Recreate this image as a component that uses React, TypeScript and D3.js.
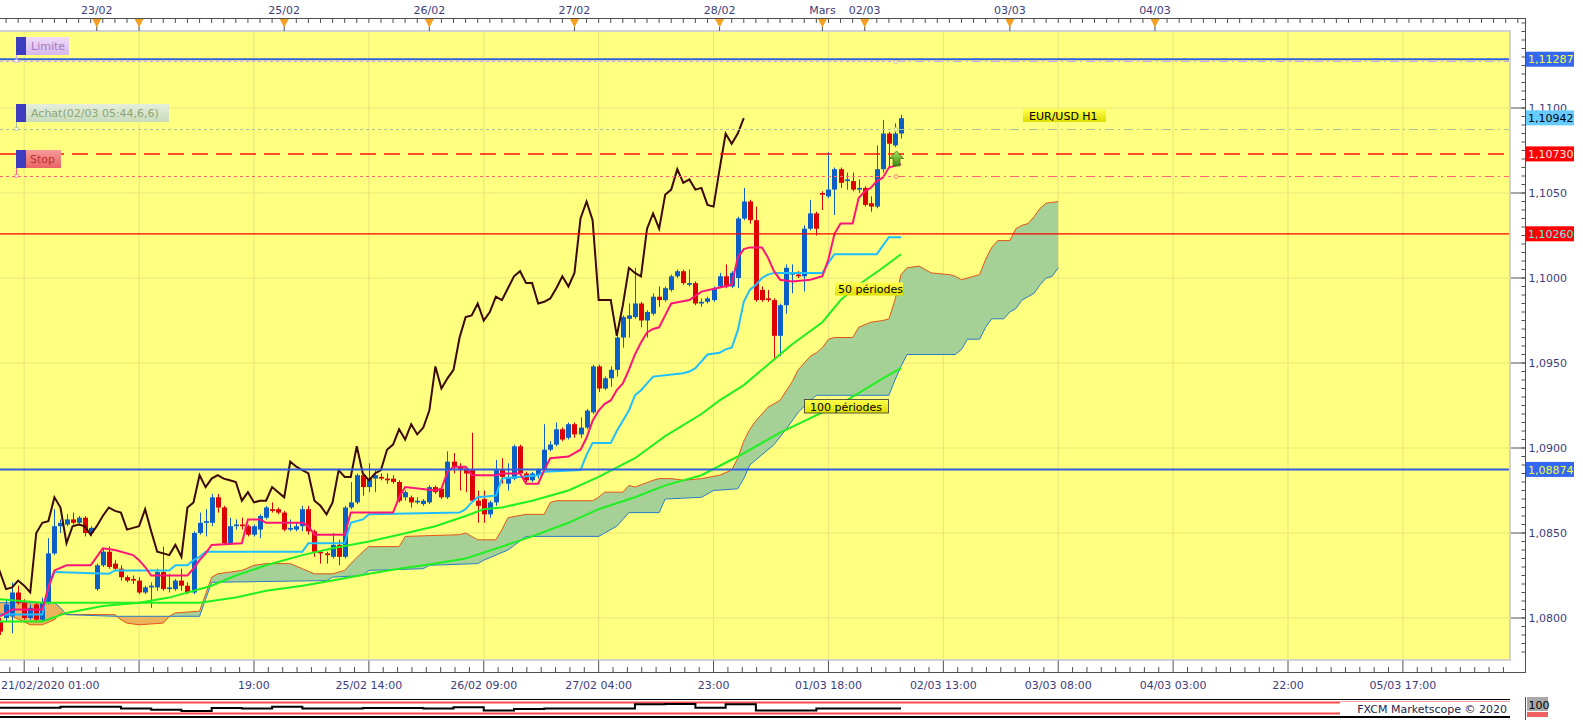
import React from 'react';
import * as d3 from 'd3';

// ---------- DATA (EUR/USD H1) ----------
const candleOpen = [
  1.0798,1.0800,1.0801,1.0815,1.0809,1.0800,1.0808,1.0799,1.0809,1.0838,
  1.0854,1.0855,1.0858,1.0856,1.0859,1.0850,1.0817,1.0831,1.0839,1.0832,
  1.0829,1.0824,1.0823,1.0822,1.0815,1.0818,1.0818,1.0827,1.0817,1.0817,
  1.0822,1.0819,1.0815,1.0850,1.0856,1.0856,1.0871,1.0865,1.0844,1.0854,
  1.0855,1.0854,1.0849,1.0852,1.0859,1.0864,1.0864,1.0862,1.0852,1.0852,
  1.0854,1.0864,1.0851,1.0839,1.0838,1.0836,1.0843,1.0836,1.0865,1.0868,
  1.0884,1.0877,1.0882,1.0883,1.0882,1.0882,1.0880,1.0871,1.0871,1.0868,
  1.0867,1.0868,1.0877,1.0876,1.0871,1.0892,1.0889,1.0888,1.0887,1.0869,
  1.0870,1.0861,1.0868,1.0887,1.0879,1.0882,1.0901,1.0885,1.0881,1.0884,
  1.0887,1.0899,1.0902,1.0911,1.0906,1.0914,1.0908,1.0912,1.0921,1.0948,
  1.0935,1.0941,1.0946,1.0965,1.0976,1.0977,1.0985,1.0975,1.0979,1.0989,
  1.0987,1.0993,1.1001,1.1004,1.0996,1.0997,1.0985,1.0986,1.0987,1.0995,
  1.1001,1.0995,1.1000,1.1035,1.1045,1.1034,1.0993,1.0988,1.0987,1.0966,
  1.0984,1.1002,1.1002,1.1001,1.1029,1.1038,1.1050,1.1048,1.1052,1.1064,
  1.1057,1.1057,1.1052,1.1053,1.1044,1.1042,1.1064,1.1085,1.1078,1.1085,
];
const candleHigh = [
  1.0800,1.0811,1.0821,1.0819,1.0811,1.0808,1.0809,1.0812,1.0847,1.0864,
  1.0858,1.0861,1.0862,1.0860,1.0860,1.0854,1.0832,1.0841,1.0842,1.0834,
  1.0831,1.0825,1.0825,1.0824,1.0819,1.0821,1.0829,1.0842,1.0826,1.0823,
  1.0829,1.0821,1.0851,1.0862,1.0864,1.0873,1.0873,1.0866,1.0859,1.0858,
  1.0859,1.0855,1.0855,1.0861,1.0866,1.0868,1.0865,1.0863,1.0858,1.0856,
  1.0866,1.0866,1.0852,1.0840,1.0839,1.0850,1.0846,1.0866,1.0880,1.0885,
  1.0885,1.0891,1.0887,1.0885,1.0885,1.0884,1.0881,1.0875,1.0872,1.0871,
  1.0870,1.0878,1.0878,1.0877,1.0898,1.0897,1.0891,1.0889,1.0909,1.0875,
  1.0875,1.0869,1.0893,1.0894,1.0891,1.0902,1.0902,1.0886,1.0886,1.0888,
  1.0914,1.0904,1.0915,1.0912,1.0915,1.0915,1.0918,1.0923,1.0949,1.0949,
  1.0942,1.0948,1.0966,1.0978,1.0985,1.1006,1.0986,1.0981,1.0991,1.0995,
  1.0995,1.1002,1.1005,1.1005,1.1005,1.0998,1.0988,1.0989,1.0995,1.1003,
  1.1008,1.1004,1.1036,1.1053,1.1046,1.1042,1.0995,1.0993,1.0988,1.0985,
  1.1008,1.1008,1.1004,1.1031,1.1046,1.1039,1.1051,1.1074,1.1065,1.1065,
  1.1062,1.1062,1.1058,1.1054,1.1048,1.1078,1.1093,1.1086,1.1091,1.1096,
];
const candleLow = [
  1.0790,1.0798,1.0791,1.0808,1.0799,1.0799,1.0798,1.0798,1.0808,1.0837,
  1.0850,1.0854,1.0855,1.0855,1.0848,1.0848,1.0816,1.0830,1.0829,1.0828,
  1.0822,1.0821,1.0820,1.0814,1.0814,1.0806,1.0816,1.0816,1.0815,1.0816,
  1.0816,1.0814,1.0814,1.0849,1.0848,1.0854,1.0862,1.0843,1.0843,1.0852,
  1.0852,1.0848,1.0848,1.0847,1.0858,1.0862,1.0861,1.0851,1.0851,1.0851,
  1.0851,1.0849,1.0836,1.0832,1.0832,1.0835,1.0831,1.0835,1.0864,1.0867,
  1.0872,1.0874,1.0874,1.0881,1.0879,1.0879,1.0868,1.0869,1.0865,1.0867,
  1.0866,1.0867,1.0873,1.0870,1.0870,1.0885,1.0875,1.0874,1.0868,1.0856,
  1.0856,1.0859,1.0866,1.0879,1.0875,1.0881,1.0884,1.0880,1.0880,1.0882,
  1.0886,1.0898,1.0901,1.0904,1.0905,1.0906,1.0906,1.0911,1.0920,1.0933,
  1.0934,1.0936,1.0942,1.0959,1.0965,1.0976,1.0971,1.0965,1.0978,1.0983,
  1.0986,1.0992,1.1000,1.0996,1.0995,1.0984,1.0983,1.0985,1.0986,1.0994,
  1.0994,1.0994,1.0994,1.1034,1.1032,1.0986,1.0986,1.0986,1.0953,1.0954,
  1.0979,1.0991,1.1000,1.0992,1.1028,1.1025,1.1040,1.1047,1.1037,1.1053,
  1.1052,1.1051,1.1050,1.1042,1.1039,1.1041,1.1062,1.1065,1.1077,1.1082,
];
const candleClose = [
  1.0792,1.0808,1.0815,1.0809,1.0800,1.0806,1.0799,1.0809,1.0838,1.0854,
  1.0856,1.0858,1.0856,1.0859,1.0850,1.0853,1.0831,1.0839,1.0830,1.0829,
  1.0824,1.0822,1.0822,1.0815,1.0818,1.0819,1.0827,1.0817,1.0818,1.0822,
  1.0819,1.0815,1.0850,1.0856,1.0857,1.0871,1.0865,1.0844,1.0854,1.0855,
  1.0854,1.0849,1.0854,1.0860,1.0865,1.0863,1.0862,1.0852,1.0853,1.0854,
  1.0864,1.0851,1.0839,1.0838,1.0837,1.0843,1.0836,1.0865,1.0868,1.0884,
  1.0877,1.0882,1.0884,1.0882,1.0881,1.0880,1.0869,1.0874,1.0868,1.0869,
  1.0869,1.0877,1.0874,1.0871,1.0892,1.0889,1.0887,1.0885,1.0869,1.0866,
  1.0861,1.0868,1.0887,1.0883,1.0883,1.0901,1.0885,1.0881,1.0885,1.0887,
  1.0899,1.0902,1.0911,1.0905,1.0914,1.0908,1.0912,1.0922,1.0948,1.0935,
  1.0941,1.0946,1.0965,1.0977,1.0978,1.0985,1.0975,1.0980,1.0989,1.0987,
  1.0994,1.1001,1.1004,1.0997,1.0997,1.0985,1.0986,1.0988,1.0994,1.1001,
  1.0995,1.1003,1.1035,1.1045,1.1034,1.0987,1.0987,1.0987,1.0966,1.0984,
  1.1006,1.1003,1.1001,1.1029,1.1038,1.1029,1.1049,1.1052,1.1064,1.1056,
  1.1058,1.1052,1.1053,1.1043,1.1042,1.1064,1.1085,1.1079,1.1085,1.1094,
];

// indicator vertices: [candle index, price]
const tenkan: [number, number][] = [
  [0,1.0801],[2,1.0805],[7,1.0805],[8,1.0818],[9,1.0828],[11,1.0831],[15,1.0831],[16,1.0836],[17,1.0841],[19,1.0840],
  [22,1.0837],[23,1.0834],[24,1.0830],[25,1.0825],[31,1.0825],[32,1.0829],[33,1.0834],[34,1.0838],[35,1.0843],[40,1.0844],
  [41,1.0858],[43,1.0858],[44,1.0856],[50,1.0856],[51,1.0854],[52,1.0849],[57,1.0849],[58,1.0862],[65,1.0862],[66,1.0871],
  [67,1.0877],[72,1.0875],[73,1.0876],[74,1.0886],[75,1.0889],[77,1.0889],[78,1.0884],[82,1.0884],[83,1.0885],[86,1.0885],
  [87,1.0879],[89,1.0879],[90,1.0887],[91,1.0894],[94,1.0895],[95,1.0897],[96,1.0899],[97,1.0906],[98,1.0916],[99,1.0922],
  [100,1.0926],[101,1.0928],[102,1.0934],[103,1.0938],[104,1.0946],[105,1.0955],[106,1.0962],[107,1.0968],[108,1.0970],[109,1.0971],
  [110,1.0978],[111,1.0985],[114,1.0987],[116,1.0992],[121,1.0996],[122,1.1012],[123,1.1017],[124,1.1018],[126,1.1018],[127,1.1012],
  [128,1.1004],[129,1.0999],[131,1.0998],[134,1.0999],[136,1.1001],[137,1.1011],[138,1.1026],[139,1.1032],[141,1.1032],[142,1.1047],
  [143,1.1051],[144,1.1053],[145,1.1057],[146,1.1059],[147,1.1065],[149,1.1067],
];
const kijun: [number, number][] = [
  [0,1.0802],[7,1.0802],[8,1.0818],[9,1.0827],[18,1.0826],[19,1.0828],[28,1.0828],[29,1.0831],[31,1.0831],[32,1.0834],
  [33,1.0836],[34,1.0839],[50,1.0839],[51,1.0844],[57,1.0844],[58,1.0856],[60,1.0858],[61,1.0861],[76,1.0862],[77,1.0864],
  [78,1.0868],[79,1.0871],[82,1.0872],[83,1.0882],[89,1.0884],[90,1.0886],[96,1.0887],[97,1.0896],[98,1.0903],[101,1.0903],
  [102,1.0910],[103,1.0916],[104,1.0922],[105,1.0931],[106,1.0934],[107,1.0938],[108,1.0942],[113,1.0944],[114,1.0945],[115,1.0947],
  [116,1.0951],[117,1.0955],[119,1.0956],[120,1.0958],[121,1.0959],[122,1.0969],[123,1.0986],[124,1.0993],[125,1.0996],[126,1.1000],
  [127,1.1002],[128,1.1003],[136,1.1003],[137,1.1009],[138,1.1014],[145,1.1014],[146,1.1019],[147,1.1024],[149,1.1024],
];
const ma50: [number, number][] = [
  [0,1.0798],[7,1.0798],[11,1.0803],[17,1.0807],[23,1.0809],[28,1.0812],[35,1.0819],[39,1.0825],[44,1.0831],[50,1.0837],
  [55,1.0841],[61,1.0845],[66,1.0849],[72,1.0854],[77,1.0860],[80,1.0864],[83,1.0865],[88,1.0869],[94,1.0875],[99,1.0883],
  [105,1.0894],[110,1.0907],[116,1.0920],[119,1.0928],[123,1.0937],[128,1.0952],[131,1.0961],[136,1.0974],[139,1.0987],[142,1.0996],
  [146,1.1006],[149,1.1014],
];
const ma100: [number, number][] = [
  [0,1.0811],[7,1.0809],[33,1.0809],[39,1.0812],[44,1.0816],[50,1.0819],[55,1.0822],[61,1.0826],[66,1.0829],[72,1.0832],
  [77,1.0835],[83,1.0842],[88,1.0848],[94,1.0856],[99,1.0864],[105,1.0871],[110,1.0878],[116,1.0884],[122,1.0895],[129,1.0909],
  [136,1.0921],[140,1.0928],[146,1.0941],[149,1.0947],
];
const senkouA: [number, number][] = [
  [0,1.0803],[2,1.0801],[5,1.0796],[7,1.0796],[9,1.0799],[10,1.0803],[11,1.0802],[19,1.0802],[20,1.0799],[21,1.0797],
  [23,1.0796],[27,1.0797],[28,1.0801],[29,1.0803],[33,1.0804],[34,1.0814],[35,1.0824],[36,1.0826],[40,1.0828],[42,1.0831],
  [44,1.0832],[48,1.0832],[50,1.0829],[52,1.0826],[55,1.0826],[57,1.0828],[58,1.0832],[60,1.0839],[61,1.0842],[66,1.0842],
  [67,1.0848],[76,1.0849],[77,1.0850],[78,1.0848],[79,1.0846],[82,1.0846],[83,1.0852],[84,1.0859],[87,1.0861],[90,1.0861],
  [91,1.0868],[92,1.0869],[98,1.0869],[99,1.0871],[100,1.0874],[103,1.0874],[104,1.0878],[105,1.0877],[108,1.0881],[109,1.0882],
  [111,1.0882],[113,1.0881],[116,1.0882],[119,1.0884],[121,1.0887],[122,1.0894],[123,1.0904],[124,1.0911],[125,1.0916],[127,1.0924],
  [129,1.0928],[131,1.0939],[132,1.0946],[134,1.0954],[135,1.0956],[136,1.0959],[137,1.0964],[138,1.0965],[141,1.0965],[142,1.0971],
  [144,1.0974],[146,1.0975],[147,1.0976],[148,1.0987],[149,1.1002],[150,1.1006],[152,1.1007],[153,1.1005],[154,1.1003],[157,1.1002],
  [158,1.1001],[159,1.0999],[161,1.1001],[162,1.1002],[163,1.1011],[164,1.1018],[165,1.1022],[167,1.1022],[168,1.1029],[169,1.1031],
  [170,1.1032],[171,1.1036],[172,1.1041],[173,1.1044],[175,1.1045],
];
const senkouB: [number, number][] = [
  [0,1.0809],[9,1.0809],[10,1.0806],[11,1.0802],[19,1.0801],[33,1.0801],[34,1.0811],[35,1.0821],[54,1.0822],[55,1.0824],
  [60,1.0825],[61,1.0828],[70,1.0829],[71,1.0831],[79,1.0832],[80,1.0834],[84,1.0840],[87,1.0848],[99,1.0848],[100,1.0850],
  [102,1.0854],[103,1.0858],[104,1.0862],[109,1.0862],[110,1.0870],[116,1.0871],[118,1.0875],[122,1.0876],[123,1.0882],[124,1.0890],
  [126,1.0896],[128,1.0902],[130,1.0911],[132,1.0921],[134,1.0928],[135,1.0931],[147,1.0931],[148,1.0940],[149,1.0948],[150,1.0955],
  [158,1.0955],[159,1.0958],[160,1.0964],[162,1.0964],[163,1.0971],[164,1.0976],[166,1.0976],[167,1.0980],[168,1.0982],[169,1.0987],
  [170,1.0989],[171,1.0991],[172,1.0996],[173,1.1000],[174,1.1001],[175,1.1006],
];

// horizontal levels
const levelLimite = 1.11287;
const levelLimiteOrder = 1.11275;
const levelCurrent = 1.10942;
const levelAchat = 1.10876;
const levelStopLine = 1.10730;
const levelStopOrder = 1.10600;
const levelRed = 1.10260;
const levelBlue = 1.08874;

// axis labels
const topDayIdx = [16, 23, 47, 71, 95, 119, 136, 143, 167, 191];
const topDayLabels = ['23/02', '', '25/02', '26/02', '27/02', '28/02', 'Mars', '02/03', '03/03', '04/03'];
const bottomMajorIdx = [4, 23, 42, 61, 80, 99, 118, 137, 156, 175, 194, 213, 232];
const bottomLabels = ['', '', '19:00', '25/02 14:00', '26/02 09:00', '27/02 04:00', '23:00', '01/03 18:00', '02/03 13:00', '03/03 08:00', '04/03 03:00', '22:00', '05/03 17:00'];
const firstDateLabel = '21/02/2020 01:00';
const priceTicks = [1.08, 1.085, 1.09, 1.095, 1.10, 1.105, 1.11];

// tiny lower pane oscillator
const oscIdx = [0,5,10,15,20,25,30,35,40,45,50,55,60,65,70,75,80,85,90,95,100,105,110,115,120,125,130,135,140,145,149];
const oscVal = [48,48,60,60,36,18,0,42,36,60,36,36,42,42,36,54,6,30,36,36,36,96,100,48,96,6,6,36,36,36,36];

// ---------- LAYOUT ----------
const W = 1583, H = 720;
const PR = 1510, PT = 31, PB = 660;
const AX = 1525.5;
const STEP = 6.047;
const FONT = 'DejaVu Sans';
const AXIS_TXT = '#3c3c7c';
const BLUE = '#0c5fc6';
const RED = '#dc0000';

const xS = d3.scaleLinear().domain([0, 100]).range([0, 100 * STEP]);
const yS = d3.scaleLinear().domain([1.08, 1.11]).range([618, 108]);

type P = [number, number];
const lineGen = d3.line<P>().x(d => xS(d[0])).y(d => yS(d[1]));
const areaBelow = d3.area<P>().x(d => xS(d[0])).y0(d => yS(d[1])).y1(PB + 10);
const areaAbove = d3.area<P>().x(d => xS(d[0])).y0(PT - 10).y1(d => yS(d[1]));
const fmt = (v: number, n: number) => v.toFixed(n).replace('.', ',');

const chikou: P[] = candleClose.map((c, i) => [i - 26, c] as P);
const oscPts: P[] = oscIdx.map((d, i) => [d, oscVal[i]] as P);
const oscY = d3.scaleLinear().domain([0, 100]).range([711, 704]);
const oscLine = d3.line<P>().x(d => xS(d[0])).y(d => oscY(d[1])).curve(d3.curveStepAfter);

function OrderLine({ price, color, split }: { price: number; color: string; split: number }) {
  const y = Math.round(yS(price)) + 0.5;
  return (
    <g>
      <line x1={0} x2={split} y1={y} y2={y} stroke={color} strokeWidth={1} strokeDasharray="3,3" />
      <line x1={split} x2={PR} y1={y} y2={y} stroke={color} strokeWidth={1} strokeDasharray="9,4,2,4" />
      <circle cx={split} cy={y} r={2} fill="#ffff80" stroke={color} strokeWidth={0.8} />
    </g>
  );
}

function PriceBox({ price, bg, fg, text }: { price: number; bg: string; fg: string; text?: string }) {
  const y = yS(price);
  return (
    <g>
      <rect x={1526} y={y - 7.5} width={48} height={15} fill={bg} />
      <text x={1528} y={y + 4.2} fontSize={11} fill={fg} fontFamily={FONT}>{text ?? fmt(price, 5)}</text>
    </g>
  );
}

export default function App() {
  React.useEffect(() => {
    document.body.style.margin = '0';
  }, []);

  const splitX = xS(149) - 5;
  const topTicks = d3.range(1, 252, 2).map(i => xS(i)).filter(x => x < AX);
  const bottomMinor: number[] = [];
  const majorGap = 19 * STEP;
  for (let k = -1; k < bottomMajorIdx.length; k++) {
    const base = xS(4 + 19 * k);
    for (let j = 1; j < 8; j++) {
      const xx = base + (j * majorGap) / 8;
      if (xx > 0 && xx < AX) bottomMinor.push(xx);
    }
  }
  const rightMinor = d3.range(0, 80).map(j => 1.0775 + j * 0.0005).map(p => yS(p)).filter(y => y > 20 && y < PB);

  return (
    <svg width={W} height={H} style={{ display: 'block', position: 'absolute', left: 0, top: 0, background: '#fff' }} fontFamily={FONT}>
      <defs>
        <clipPath id="plotClip"><rect x={0} y={PT} width={PR} height={PB - PT} /></clipPath>
        <clipPath id="aboveB"><path d={areaAbove(senkouB) || ''} /></clipPath>
        <clipPath id="aboveA"><path d={areaAbove(senkouA) || ''} /></clipPath>
        <linearGradient id="gLim" x1="0" y1="0" x2="0" y2="1"><stop offset="0" stopColor="#efdcf7" /><stop offset="1" stopColor="#d7b8ea" /></linearGradient>
        <linearGradient id="gAch" x1="0" y1="0" x2="0" y2="1"><stop offset="0" stopColor="#e6eedc" /><stop offset="1" stopColor="#c9dbbb" /></linearGradient>
        <linearGradient id="gStop" x1="0" y1="0" x2="0" y2="1"><stop offset="0" stopColor="#f79a9a" /><stop offset="1" stopColor="#e86464" /></linearGradient>
        <linearGradient id="gYel" x1="0" y1="0" x2="0" y2="1"><stop offset="0" stopColor="#ffff50" /><stop offset="1" stopColor="#dede00" /></linearGradient>
        <linearGradient id="gArrow" x1="0" y1="0" x2="0" y2="1"><stop offset="0" stopColor="#a6e05a" /><stop offset="1" stopColor="#3f8a12" /></linearGradient>
      </defs>

      {/* plot background */}
      <rect x={0} y={PT} width={PR} height={PB - PT} fill="#ffff80" />

      {/* grid */}
      {priceTicks.map(p => (
        <line key={'hg' + p} x1={0} x2={PR} y1={yS(p)} y2={yS(p)} stroke="#ece67c" strokeWidth={1.2} />
      ))}
      {bottomMajorIdx.map(i => (
        <line key={'vg' + i} x1={xS(i)} x2={xS(i)} y1={PT} y2={PB} stroke="#ece67c" strokeWidth={1.2} />
      ))}

      <g clipPath="url(#plotClip)">
        {/* Ichimoku cloud */}
        <path d={areaBelow(senkouA) || ''} fill="#a5d196" clipPath="url(#aboveB)" />
        <path d={areaBelow(senkouB) || ''} fill="#edb35c" clipPath="url(#aboveA)" />
        <path d={lineGen(senkouA) || ''} fill="none" stroke="#e2561a" strokeWidth={1} />
        <path d={lineGen(senkouB) || ''} fill="none" stroke="#2a7cc8" strokeWidth={1} />

        {/* candles */}
        {candleOpen.map((o, i) => {
          const c = candleClose[i];
          const up = c >= o;
          const col = up ? BLUE : RED;
          const cx = Math.round(xS(i));
          const yTop = yS(Math.max(o, c));
          const yBot = yS(Math.min(o, c));
          return (
            <g key={'c' + i}>
              <line x1={cx + 0.5} x2={cx + 0.5} y1={yS(candleHigh[i])} y2={yS(candleLow[i])} stroke={col} strokeWidth={1} />
              <rect x={cx - 2} y={yTop} width={5} height={Math.max(1.5, yBot - yTop)} fill={col} />
            </g>
          );
        })}

        {/* moving averages */}
        <path d={lineGen(ma100) || ''} fill="none" stroke="#1ff01f" strokeWidth={2} />
        <path d={lineGen(ma50) || ''} fill="none" stroke="#1ff01f" strokeWidth={2} />
        {/* kijun / tenkan / chikou */}
        <path d={lineGen(kijun) || ''} fill="none" stroke="#1ebeff" strokeWidth={2} />
        <path d={lineGen(tenkan) || ''} fill="none" stroke="#ff1478" strokeWidth={2} />
        <path d={lineGen(chikou) || ''} fill="none" stroke="#3c0808" strokeWidth={2} />

        {/* horizontal levels */}
        <OrderLine price={levelLimiteOrder} color="#c9a6f2" split={splitX} />
        <line x1={0} x2={PR} y1={yS(levelLimite)} y2={yS(levelLimite)} stroke="#2f5fe0" strokeWidth={2} />
        <OrderLine price={levelAchat} color="#a9c29a" split={splitX} />
        <line x1={0} x2={PR} y1={yS(levelStopLine)} y2={yS(levelStopLine)} stroke="#ff1010" strokeWidth={1.5} strokeDasharray="16,8" />
        <OrderLine price={levelStopOrder} color="#ff6478" split={splitX} />
        <line x1={0} x2={PR} y1={yS(levelRed)} y2={yS(levelRed)} stroke="#ff0000" strokeWidth={1.3} />
        <line x1={0} x2={PR} y1={yS(levelBlue)} y2={yS(levelBlue)} stroke="#2f5fe0" strokeWidth={2} />

        {/* order tags */}
        <line x1={16.5} x2={16.5} y1={55} y2={yS(levelLimiteOrder)} stroke="#c9a6f2" strokeWidth={1} />
        <rect x={15} y={yS(levelLimiteOrder) - 1.5} width={3} height={3} fill="#fff" stroke="#c9a6f2" strokeWidth={0.6} />
        <rect x={16} y={37} width={10} height={18} fill="#3c3cc0" />
        <rect x={26} y={37} width={43} height={18} fill="url(#gLim)" />
        <text x={31} y={50} fontSize={11} fill="#a57ac4">Limite</text>

        <line x1={16.5} x2={16.5} y1={122} y2={yS(levelAchat)} stroke="#a9c29a" strokeWidth={1} />
        <rect x={15} y={yS(levelAchat) - 1.5} width={3} height={3} fill="#fff" stroke="#a9c29a" strokeWidth={0.6} />
        <rect x={16} y={104} width={10} height={18} fill="#3c3cc0" />
        <rect x={26} y={104} width={143} height={18} fill="url(#gAch)" />
        <text x={31} y={117} fontSize={11} fill="#8aa676">Achat(02/03 05:44,6,6)</text>

        <line x1={16.5} x2={16.5} y1={168} y2={yS(levelStopOrder)} stroke="#ff6478" strokeWidth={1} />
        <rect x={15} y={yS(levelStopOrder) - 1.5} width={3} height={3} fill="#fff" stroke="#ff6478" strokeWidth={0.6} />
        <rect x={16} y={150} width={10} height={18} fill="#3c3cc0" />
        <rect x={26} y={150} width={35} height={18} fill="url(#gStop)" />
        <text x={30} y={163} fontSize={11} fill="#b83030">Stop</text>

        {/* entry arrow */}
        <polygon points="896.5,151 903.5,158.5 900,158.5 900,166 893,166 893,158.5 889.5,158.5" fill="url(#gArrow)" stroke="#2e6a10" strokeWidth={0.7} />

        {/* text tags */}
        <rect x={835} y={282.5} width={68} height={13} fill="url(#gYel)" />
        <text x={838} y={293} fontSize={11} fill="#000">50 périodes</text>
        <rect x={804.5} y={399.5} width={84} height={13.5} fill="url(#gYel)" stroke="#333" strokeWidth={0.8} />
        <text x={810} y={410.5} fontSize={11} fill="#000">100 périodes</text>
        <rect x={1023} y={109} width={83} height={13} fill="url(#gYel)" />
        <text x={1029} y={119.5} fontSize={11} fill="#000">EUR/USD H1</text>
      </g>

      {/* plot border */}
      <path d={`M0,${PT} H${PR} V${PB} H0`} fill="none" stroke="#d2d2d2" strokeWidth={2} />

      {/* top axis */}
      <line x1={0} x2={AX} y1={18.5} y2={18.5} stroke="#505050" strokeWidth={1} />
      {topTicks.map((x, k) => (
        <line key={'tt' + k} x1={x} x2={x} y1={18.5} y2={23} stroke="#505050" strokeWidth={1} />
      ))}
      {topDayIdx.map((i, k) => {
        const x = xS(i);
        return (
          <g key={'td' + k}>
            <line x1={x} x2={x} y1={18.5} y2={PT} stroke="#505050" strokeWidth={1} />
            <polygon points={`${x - 4.5},19 ${x + 4.5},19 ${x},27.5`} fill="#f4a024" />
            {topDayLabels[k] && (
              <text x={x} y={13.5} fontSize={11} textAnchor="middle" fill={AXIS_TXT}>{topDayLabels[k]}</text>
            )}
          </g>
        );
      })}

      {/* right axis */}
      <line x1={AX} x2={AX} y1={18} y2={673} stroke="#505050" strokeWidth={1} />
      {rightMinor.map((y, k) => (
        <line key={'rm' + k} x1={AX - 4} x2={AX} y1={y} y2={y} stroke="#505050" strokeWidth={1} />
      ))}
      {priceTicks.map(p => (
        <g key={'rt' + p}>
          <line x1={1511} x2={AX} y1={yS(p)} y2={yS(p)} stroke="#505050" strokeWidth={1} />
          <text x={1528.5} y={yS(p) + 4} fontSize={11} fill={AXIS_TXT}>{fmt(p, 4)}</text>
        </g>
      ))}
      <PriceBox price={levelLimite} bg="#3468f0" fg="#f4ff3c" />
      <PriceBox price={levelCurrent} bg="#66ccff" fg="#000" />
      <PriceBox price={levelStopLine} bg="#ff0000" fg="#ffe4e4" />
      <PriceBox price={levelRed} bg="#ff0000" fg="#5ff0f0" />
      <PriceBox price={levelBlue} bg="#3468f0" fg="#f4ff3c" />

      {/* bottom axis */}
      <line x1={0} x2={AX} y1={672.5} y2={672.5} stroke="#505050" strokeWidth={1} />
      {bottomMinor.map((x, k) => (
        <line key={'bm' + k} x1={x} x2={x} y1={667} y2={672.5} stroke="#505050" strokeWidth={1} />
      ))}
      {bottomMajorIdx.map((i, k) => (
        <g key={'bM' + k}>
          <line x1={xS(i)} x2={xS(i)} y1={660.5} y2={672.5} stroke="#505050" strokeWidth={1} />
          {bottomLabels[k] && (
            <text x={xS(i)} y={689} fontSize={11} textAnchor="middle" fill={AXIS_TXT}>{bottomLabels[k]}</text>
          )}
        </g>
      ))}
      <text x={1} y={689} fontSize={11} fill={AXIS_TXT}>{firstDateLabel}</text>

      {/* lower pane */}
      <rect x={0} y={697} width={PR} height={21} fill="#fff" />
      <line x1={0} x2={PR} y1={699.5} y2={699.5} stroke="#000" strokeWidth={1.2} />
      <line x1={0} x2={PR} y1={702.5} y2={702.5} stroke="#ff4a4a" strokeWidth={2} />
      <line x1={0} x2={PR} y1={713.5} y2={713.5} stroke="#ff4a4a" strokeWidth={2} />
      <line x1={0} x2={PR} y1={717} y2={717} stroke="#000" strokeWidth={2} />
      <path d={oscLine(oscPts) || ''} fill="none" stroke="#000" strokeWidth={2} />
      <line x1={AX} x2={AX} y1={697} y2={720} stroke="#505050" strokeWidth={1} />
      <rect x={1340} y={702} width={170} height={14} fill="#fff" />
      <text x={1507} y={713} fontSize={11} textAnchor="end" fill="#26264a">FXCM Marketscope © 2020</text>
      <rect x={1527} y={697} width={21} height={14} fill="#a8a8a8" />
      <text x={1528.5} y={708.5} fontSize={11} fill="#000">100</text>
      <rect x={1527} y={712} width={21} height={5} fill="#f06060" />
    </svg>
  );
}
